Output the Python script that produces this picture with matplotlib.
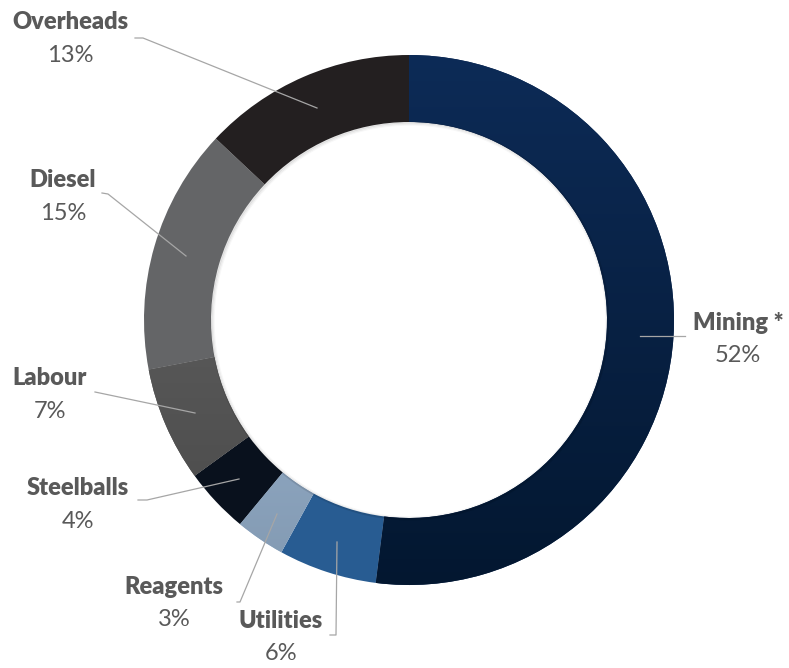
import matplotlib
matplotlib.use("Agg")
import matplotlib.pyplot as plt
import numpy as np
from matplotlib.colors import LinearSegmentedColormap

categories = ["Mining *", "Utilities", "Reagents", "Steelballs", "Labour", "Diesel", "Overheads"]
values = [52, 6, 3, 4, 7, 15, 13]
pct_labels = ["52%", "6%", "3%", "4%", "7%", "15%", "13%"]

colors = ["#0a2550", "#285c92", "#9db7d6", "#09111d", "#585858", "#646567", "#231f20"]
grad = {0: ("#0d2b57", "#031730"), 2: ("#aac6e6", "#8299b1"), 4: ("#6a6a6a", "#484848")}

W, H = 789, 668
fig = plt.figure(figsize=(W / 100, H / 100), dpi=100)
ax = fig.add_axes([0, 0, 1, 1])

cx, cy, R = 409, H - 320, 265
ring = 67
wedges, _ = ax.pie(values, radius=R, center=(cx, cy), startangle=90, counterclock=False,
                   colors=colors, wedgeprops=dict(width=ring, linewidth=0))

for i, (c1, c2) in grad.items():
    w = wedges[i]
    img = np.linspace(0, 1, 256).reshape(-1, 1)
    cmap = LinearSegmentedColormap.from_list("g%d" % i, [c1, c2])
    im = ax.imshow(img, cmap=cmap, aspect="auto",
                   extent=(cx - R - 2, cx + R + 2, cy - R - 2, cy + R + 2),
                   origin="upper", zorder=w.get_zorder() + 0.1, interpolation="bilinear")
    im.set_clip_path(w)

# faint inner shadow
for k, a in enumerate([0.10, 0.06, 0.03]):
    circ = plt.Circle((cx + 1, cy - 1), R - ring + 0.5 - k * 1.2, fill=False,
                      edgecolor="#000000", alpha=a, linewidth=1.2, zorder=5)
    ax.add_patch(circ)

ax.set_xlim(0, W)
ax.set_ylim(0, H)
ax.set_aspect("equal")
ax.axis("off")

txt = "#595959"
fam = ["Lato", "DejaVu Sans"]
fs = 17
label_pos = {
    "Mining *": (738, 323),
    "Utilities": (281, 621),
    "Reagents": (174, 587),
    "Steelballs": (78, 488),
    "Labour": (50, 378),
    "Diesel": (63, 180),
    "Overheads": (70, 22),
}
for name, pct in zip(categories, pct_labels):
    x, y = label_pos[name]
    ax.text(x, H - y, name, ha="center", va="center", fontsize=fs, fontweight="heavy",
            color=txt, family=fam)
    ax.text(x, H - y - 33, pct, ha="center", va="center", fontsize=fs, color=txt, family=fam)

leaders = {
    "Overheads": [(135, 38), (143, 38), (317, 108)],
    "Diesel": [(102, 193), (108, 194), (186, 256)],
    "Labour": [(95, 392), (195, 413)],
    "Steelballs": [(138, 500), (147, 500), (239, 479)],
    "Reagents": [(237, 602), (240, 602), (277, 514)],
    "Utilities": [(330, 635), (336, 635), (337, 542)],
    "Mining *": [(640, 336), (685, 336)],
}
for name, pts in leaders.items():
    xs = [p[0] for p in pts]
    ys = [H - p[1] for p in pts]
    ax.plot(xs, ys, color="#a6a6a6", linewidth=0.9, zorder=6)

fig.savefig("out.png", dpi=100, facecolor="white")
